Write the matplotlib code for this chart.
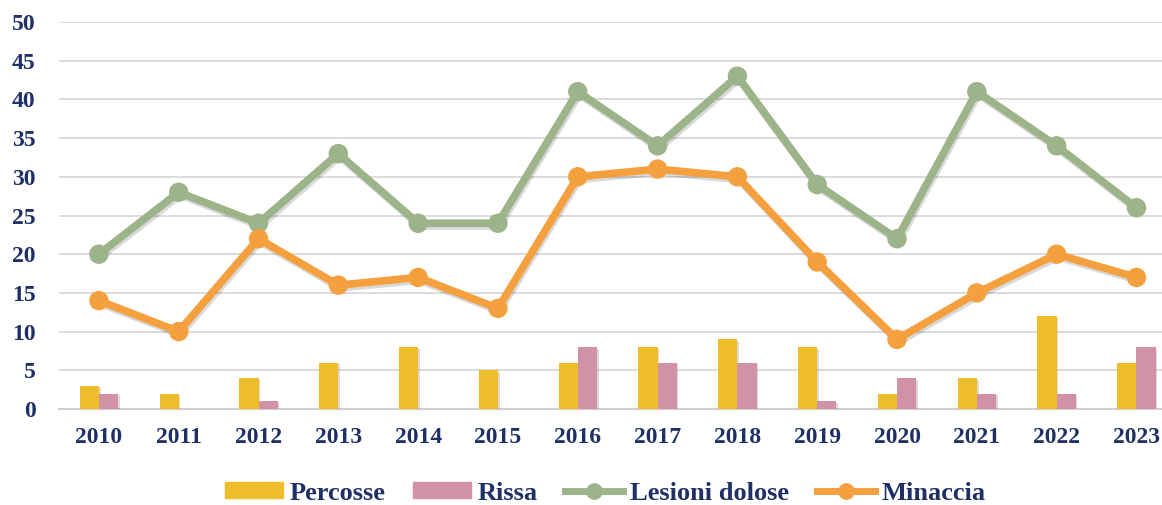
import matplotlib
matplotlib.use("Agg")
import matplotlib.pyplot as plt
import matplotlib.patheffects as pe
from matplotlib.patches import Patch
from matplotlib.lines import Line2D
import numpy as np

years = ["2010", "2011", "2012", "2013", "2014", "2015", "2016",
         "2017", "2018", "2019", "2020", "2021", "2022", "2023"]
percosse = [3, 2, 4, 6, 8, 5, 6, 8, 9, 8, 2, 4, 12, 6]
rissa = [2, 0, 1, 0, 0, 0, 8, 6, 6, 1, 4, 2, 2, 8]
lesioni = [20, 28, 24, 33, 24, 24, 41, 34, 43, 29, 22, 41, 34, 26]
minaccia = [14, 10, 22, 16, 17, 13, 30, 31, 30, 19, 9, 15, 20, 17]
yticks = [0, 5, 10, 15, 20, 25, 30, 35, 40, 45, 50]

navy = "#1F3066"
c_yellow = "#EDBD2A"
c_pink = "#D292A6"
c_green = "#9DB38A"
c_orange = "#F5A03F"
font = "Liberation Serif"

W, H = 1162, 505
fig = plt.figure(figsize=(W / 100, H / 100), dpi=100)
ax = fig.add_axes([59 / W, 1 - 409 / H, 1 - 59 / W, (409 - 22) / H])

x = np.arange(len(years))
bw = 0.24
shadow = [pe.SimplePatchShadow(offset=(1.2, -1.2), alpha=0.18), pe.Normal()]
ax.bar(x - bw / 2, percosse, bw, color=c_yellow, zorder=3, path_effects=shadow)
ax.bar(x + bw / 2, rissa, bw, color=c_pink, zorder=3, path_effects=shadow)

lshadow = [pe.SimpleLineShadow(offset=(1, -2), alpha=0.15), pe.Normal()]
ax.plot(x, lesioni, color=c_green, lw=5.5, marker="o", ms=14,
        markeredgewidth=0, zorder=4, path_effects=lshadow, solid_capstyle="round")
ax.plot(x, minaccia, color=c_orange, lw=5.5, marker="o", ms=14,
        markeredgewidth=0, zorder=5, path_effects=lshadow, solid_capstyle="round")

ax.set_xlim(-0.5, 13.32)
ax.set_ylim(0, 50)
ax.set_yticks(yticks)
ax.set_yticklabels([str(v) for v in yticks], fontfamily=font,
                   fontweight="bold", fontsize=17, color=navy)
ax.set_xticks(x)
ax.set_xticklabels(years, fontfamily=font, fontweight="bold",
                   fontsize=17, color=navy)
ax.tick_params(axis="both", length=0)
ax.tick_params(axis="x", pad=13)
ax.tick_params(axis="y", pad=17)
ax.grid(axis="y", color="#D9D9D9", lw=1.3, zorder=0)
ax.set_axisbelow(True)
for s in ["top", "right", "left"]:
    ax.spines[s].set_visible(False)
ax.spines["bottom"].set_color("#D0D0D0")
ax.spines["bottom"].set_linewidth(1.5)

handles = [
    Patch(color=c_yellow, label="Percosse"),
    Patch(color=c_pink, label="Rissa"),
    Line2D([], [], color=c_green, lw=5, marker="o", ms=11, label="Lesioni dolose"),
    Line2D([], [], color=c_orange, lw=5, marker="o", ms=11, label="Minaccia"),
]
leg = fig.legend(handles=handles, loc="center", bbox_to_anchor=(605 / W, 1 - 493 / H),
                 ncol=4, frameon=False, handlelength=2.2, handleheight=0.55,
                 handletextpad=0.25, columnspacing=1.05,
                 prop={"family": font, "weight": "bold", "size": 19})
for t in leg.get_texts():
    t.set_color(navy)

fig.savefig("out.png", dpi=100)
